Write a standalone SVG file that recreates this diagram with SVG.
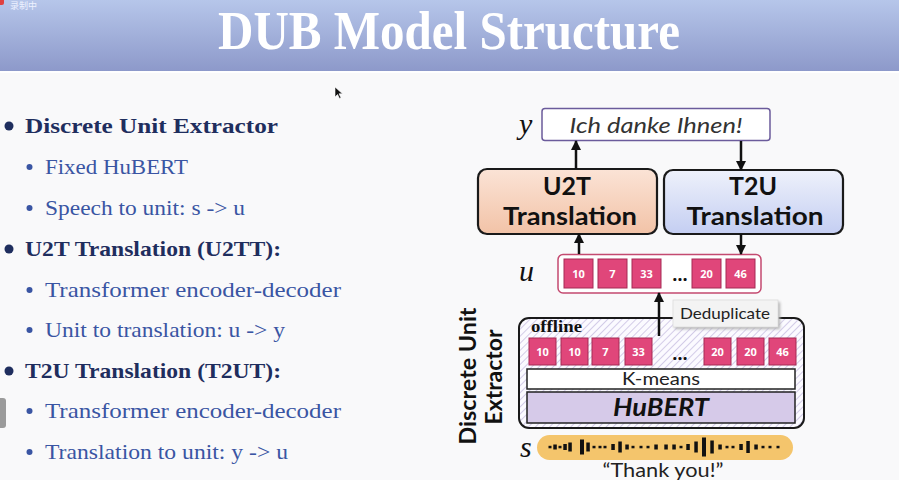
<svg xmlns="http://www.w3.org/2000/svg" width="899" height="480" viewBox="0 0 899 480">
<defs>
<linearGradient id="hdr" x1="0" y1="0" x2="0" y2="1"><stop offset="0" stop-color="#b6c6ea"/><stop offset="1" stop-color="#8d99ca"/></linearGradient>
<linearGradient id="peach" x1="0" y1="0" x2="0" y2="1"><stop offset="0" stop-color="#fbe3d6"/><stop offset="1" stop-color="#f2c3a7"/></linearGradient>
<linearGradient id="blue" x1="0" y1="0" x2="0" y2="1"><stop offset="0" stop-color="#eef1fb"/><stop offset="1" stop-color="#c4cef2"/></linearGradient>
<pattern id="hatch" width="5" height="5" patternUnits="userSpaceOnUse" patternTransform="rotate(45)"><rect width="5" height="5" fill="#fbfaff"/><line x1="0" y1="0" x2="0" y2="5" stroke="#c9c1e2" stroke-width="1.6"/></pattern>
<marker id="ah" viewBox="0 0 10 10" refX="9" refY="5" markerWidth="10" markerHeight="10" markerUnits="userSpaceOnUse" orient="auto"><path d="M0,0 L10,5 L0,10 z" fill="#111"/></marker>
<filter id="sh" x="-10%" y="-20%" width="130%" height="160%"><feGaussianBlur stdDeviation="1.5"/></filter>
</defs>
<style>
.bb{font-family:"Liberation Serif",serif;font-weight:bold;font-size:22px;fill:#1f2e5e}
.sb{font-family:"Liberation Serif",serif;font-size:22px;fill:#3a55a3}
.var{font-family:"Liberation Serif",serif;font-style:italic;font-size:30px;fill:#111}
.ss{font-family:Lato,"Open Sans",sans-serif}
.unit{fill:#e0467a;stroke:#a52a55;stroke-width:1}
.ut{font-family:"Open Sans",Lato,sans-serif;font-weight:bold;font-size:11px;fill:#fff;text-anchor:middle}
.big{font-family:Lato,"Open Sans",sans-serif;font-weight:bold;font-size:24px;fill:#111;text-anchor:middle}
.conn{stroke:#111;stroke-width:2.5;fill:none;marker-end:url(#ah)}
.wd{fill:#111}
</style>
<rect width="899" height="480" fill="#f9f9fa"/>
<rect width="899" height="71" fill="url(#hdr)"/>
<rect y="71" width="899" height="2" fill="#ffffff"/>
<text x="449" y="49" text-anchor="middle" font-family="Liberation Serif,serif" font-weight="bold" font-size="54" fill="#ffffff" textLength="462" lengthAdjust="spacingAndGlyphs">DUB Model Structure</text>
<rect x="-2" y="-3" width="6" height="8" rx="2" fill="#e04040"/>
<text x="10" y="9" font-family="Noto Sans CJK SC,sans-serif" font-size="9" fill="#eef2ff">录制中</text>
<path d="M335,87 L335,97 L337.5,94.5 L339.5,98.5 L341,97.8 L339,93.8 L342.5,93.8 z" fill="#111" stroke="#fff" stroke-width="0.6"/>
<rect x="-4" y="398" width="10" height="30" rx="3" fill="#9b9b9b"/>

<g id="bullets">
<circle cx="9" cy="126" r="4.5" fill="#1f2e5e"/>
<text class="bb" x="25" y="133" textLength="253" lengthAdjust="spacingAndGlyphs">Discrete Unit Extractor</text>
<circle cx="29.5" cy="167" r="3" fill="#3a55a3"/>
<text class="sb" x="45" y="174" textLength="143" lengthAdjust="spacingAndGlyphs">Fixed HuBERT</text>
<circle cx="29.5" cy="208" r="3" fill="#3a55a3"/>
<text class="sb" x="45" y="215" textLength="200" lengthAdjust="spacingAndGlyphs">Speech to unit: s -&gt; u</text>
<circle cx="9" cy="249" r="4.5" fill="#1f2e5e"/>
<text class="bb" x="25" y="256" textLength="256" lengthAdjust="spacingAndGlyphs">U2T Translation (U2TT):</text>
<circle cx="29.5" cy="290" r="3" fill="#3a55a3"/>
<text class="sb" x="45" y="297" textLength="296" lengthAdjust="spacingAndGlyphs">Transformer encoder-decoder</text>
<circle cx="29.5" cy="330" r="3" fill="#3a55a3"/>
<text class="sb" x="45" y="337" textLength="240" lengthAdjust="spacingAndGlyphs">Unit to translation: u -&gt; y</text>
<circle cx="9" cy="371" r="4.5" fill="#1f2e5e"/>
<text class="bb" x="25" y="378" textLength="256" lengthAdjust="spacingAndGlyphs">T2U Translation (T2UT):</text>
<circle cx="29.5" cy="411" r="3" fill="#3a55a3"/>
<text class="sb" x="45" y="418" textLength="296" lengthAdjust="spacingAndGlyphs">Transformer encoder-decoder</text>
<circle cx="29.5" cy="452" r="3" fill="#3a55a3"/>
<text class="sb" x="45" y="459" textLength="243" lengthAdjust="spacingAndGlyphs">Translation to unit: y -&gt; u</text>
</g>

<g id="y-output">
<text class="var" x="519" y="134">y</text>
<rect x="542" y="108.5" width="228" height="32" rx="3" fill="#ffffff" stroke="#6b5b9b" stroke-width="1.5"/>
<text class="ss" x="656" y="133" text-anchor="middle" font-style="italic" font-size="22" fill="#333" textLength="173" lengthAdjust="spacingAndGlyphs">Ich danke Ihnen!</text>
</g>

<g id="u2t">
<rect x="478" y="169" width="179" height="65" rx="9" fill="url(#peach)" stroke="#1a1a1a" stroke-width="2.2"/>
<text class="big" x="567" y="195" textLength="48" lengthAdjust="spacingAndGlyphs">U2T</text>
<text class="big" x="570" y="225" textLength="134" lengthAdjust="spacingAndGlyphs">Translation</text>
</g>

<g id="t2u">
<rect x="664" y="170" width="179" height="64" rx="9" fill="url(#blue)" stroke="#1a1a1a" stroke-width="2.2"/>
<text class="big" x="753" y="195" textLength="48" lengthAdjust="spacingAndGlyphs">T2U</text>
<text class="big" x="755" y="225" textLength="137" lengthAdjust="spacingAndGlyphs">Translation</text>
</g>

<g id="u-units">
<text class="var" x="519" y="281">u</text>
<rect x="558" y="254.5" width="203" height="38.5" rx="5" fill="#ffffff" stroke="#c44a70" stroke-width="1.5"/>
<rect class="unit" x="564" y="259" width="29" height="29"/><text class="ut" x="578.5" y="277.5">10</text>
<rect class="unit" x="598" y="259" width="29" height="29"/><text class="ut" x="612.5" y="277.5">7</text>
<rect class="unit" x="632" y="259" width="29" height="29"/><text class="ut" x="646.5" y="277.5">33</text>
<text x="680" y="281" text-anchor="middle" font-family="Open Sans,sans-serif" font-weight="bold" font-size="18" fill="#111">…</text>
<rect class="unit" x="692" y="259" width="29" height="29"/><text class="ut" x="706.5" y="277.5">20</text>
<rect class="unit" x="726" y="259" width="29" height="29"/><text class="ut" x="740.5" y="277.5">46</text>
</g>

<g id="extractor">
<text class="ss" transform="translate(476,376) rotate(-90)" text-anchor="middle" font-weight="bold" font-size="22" fill="#111" textLength="137" lengthAdjust="spacingAndGlyphs">Discrete Unit</text>
<text class="ss" transform="translate(502,377) rotate(-90)" text-anchor="middle" font-weight="bold" font-size="22" fill="#111" textLength="95" lengthAdjust="spacingAndGlyphs">Extractor</text>
<rect x="519" y="318" width="285" height="110" rx="10" fill="url(#hatch)" stroke="#1a1a1a" stroke-width="2"/>
<text x="531" y="332" font-family="Liberation Serif,serif" font-weight="bold" font-size="16" fill="#111" textLength="51" lengthAdjust="spacingAndGlyphs">offline</text>
<rect class="unit" x="529" y="338" width="27" height="27"/><text class="ut" x="542.5" y="355.5">10</text>
<rect class="unit" x="561" y="338" width="27" height="27"/><text class="ut" x="574.5" y="355.5">10</text>
<rect class="unit" x="592" y="338" width="27" height="27"/><text class="ut" x="605.5" y="355.5">7</text>
<rect class="unit" x="625" y="338" width="27" height="27"/><text class="ut" x="638.5" y="355.5">33</text>
<text x="680" y="360" text-anchor="middle" font-family="Open Sans,sans-serif" font-weight="bold" font-size="18" fill="#111">…</text>
<rect class="unit" x="704" y="338" width="27" height="27"/><text class="ut" x="717.5" y="355.5">20</text>
<rect class="unit" x="737" y="338" width="27" height="27"/><text class="ut" x="750.5" y="355.5">20</text>
<rect class="unit" x="769" y="338" width="27" height="27"/><text class="ut" x="782.5" y="355.5">46</text>
<rect x="527" y="369" width="268" height="20" fill="#ffffff" stroke="#222" stroke-width="1.5"/>
<text class="ss" x="661" y="385" text-anchor="middle" font-size="18" fill="#222" textLength="78" lengthAdjust="spacingAndGlyphs">K-means</text>
<rect x="527" y="392" width="268" height="31" fill="#d6cae9" stroke="#222" stroke-width="1.5"/>
<text class="ss" x="661" y="416" text-anchor="middle" font-size="25" font-weight="bold" font-style="italic" fill="#111" textLength="96" lengthAdjust="spacingAndGlyphs">HuBERT</text>
</g>

<g id="deduplicate">
<rect x="675" y="302" width="105" height="27" fill="#b0b0b0" filter="url(#sh)"/>
<rect x="673" y="300" width="105" height="27" fill="#f3f3f3" stroke="#dcdcdc" stroke-width="0.8"/>
<text class="ss" x="725" y="319" text-anchor="middle" font-size="16" fill="#222" textLength="90" lengthAdjust="spacingAndGlyphs">Deduplicate</text>
</g>

<g id="speech">
<text class="var" x="520" y="457">s</text>
<rect x="537" y="435" width="256" height="25" rx="12.5" fill="#f4c56c"/>
<g class="wd">
<rect x="548.5" y="445.8" width="3" height="2.5"/>
<rect x="553.3" y="444.5" width="3.5" height="5"/>
<rect x="558.5" y="445.8" width="3" height="2.5"/>
<rect x="563.3" y="444" width="3.5" height="6"/>
<rect x="568.3" y="442.5" width="3.5" height="9"/>
<rect x="580" y="439.5" width="4" height="15"/>
<rect x="586.3" y="442.5" width="3.5" height="9"/>
<rect x="592.5" y="445.8" width="3" height="2.5"/>
<rect x="598.5" y="445.8" width="3" height="2.5"/>
<rect x="603.5" y="445.8" width="3" height="2.5"/>
<rect x="611.3" y="444" width="3.5" height="6"/>
<rect x="618.3" y="441.5" width="3.5" height="11"/>
<rect x="625.3" y="444.5" width="3.5" height="5"/>
<rect x="631.5" y="445.8" width="3" height="2.5"/>
<rect x="639.5" y="445.8" width="3" height="2.5"/>
<rect x="646.5" y="445.8" width="3" height="2.5"/>
<rect x="654.3" y="444.5" width="3.5" height="5"/>
<rect x="664.3" y="444.5" width="3.5" height="5"/>
<rect x="672.3" y="444.5" width="3.5" height="5"/>
<rect x="679.5" y="445.8" width="3" height="2.5"/>
<rect x="686.3" y="444" width="3.5" height="6"/>
<rect x="694.3" y="441.5" width="3.5" height="11"/>
<rect x="702" y="437.5" width="4" height="19"/>
<rect x="710.3" y="440.5" width="3.5" height="13"/>
<rect x="718.3" y="444.5" width="3.5" height="5"/>
<rect x="725.5" y="445.8" width="3" height="2.5"/>
<rect x="731.5" y="445.8" width="3" height="2.5"/>
<rect x="739.3" y="444" width="3.5" height="6"/>
<rect x="746.3" y="441" width="3.5" height="12"/>
<rect x="754.3" y="444.5" width="3.5" height="5"/>
<rect x="761.5" y="445.8" width="3" height="2.5"/>
<rect x="768.5" y="445.8" width="3" height="2.5"/>
<rect x="776.5" y="445.8" width="3" height="2.5"/>
</g>
<text class="ss" x="663" y="477" text-anchor="middle" font-size="19" fill="#222" textLength="121" lengthAdjust="spacingAndGlyphs">“Thank you!”</text>
</g>

<g id="connectors">
<line class="conn" x1="576" y1="169" x2="576" y2="141"/>
<line class="conn" x1="741" y1="141" x2="741" y2="170"/>
<line class="conn" x1="579" y1="254" x2="579" y2="234"/>
<line class="conn" x1="741" y1="234" x2="741" y2="254"/>
<line class="conn" x1="659" y1="336" x2="659" y2="293"/>
</g>
</svg>
